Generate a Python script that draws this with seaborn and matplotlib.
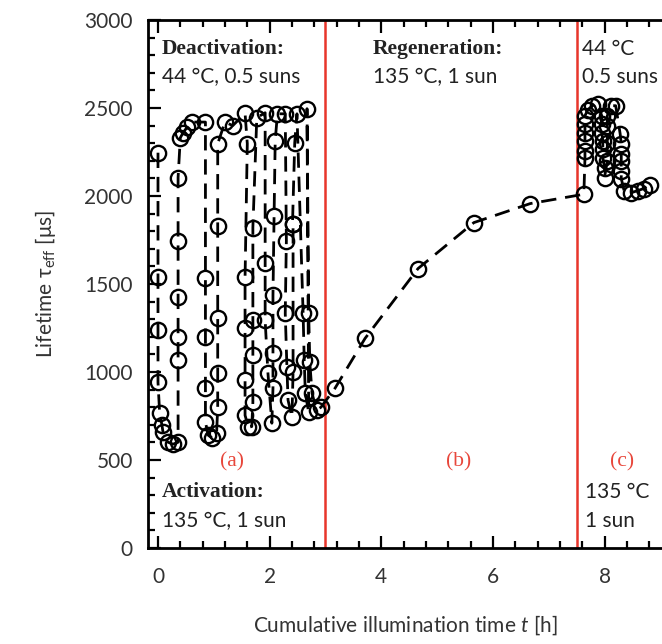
import numpy as np
import pandas as pd
import matplotlib
matplotlib.use("Agg")
import matplotlib.pyplot as plt
from matplotlib.ticker import MultipleLocator
import seaborn as sns

sns.set_theme(style="white")
plt.rcParams["font.family"] = ["Lato", "DejaVu Sans"]
plt.rcParams["mathtext.fontset"] = "custom"
plt.rcParams["mathtext.rm"] = "Lato"
plt.rcParams["mathtext.it"] = "Lato:italic"

# Cumulative illumination time [h] and effective lifetime [us], in measurement order
time_h = [
    # (a) activation / deactivation cycles
    0.00, 0.00, 0.00, 0.00, 0.03, 0.07, 0.09, 0.18, 0.27, 0.36,
    0.36, 0.36, 0.36, 0.36, 0.36, 0.40, 0.45, 0.52, 0.61,
    0.85, 0.85, 0.85, 0.85, 0.85, 0.90, 0.97, 1.05,
    1.07, 1.07, 1.07, 1.07, 1.07, 1.20, 1.34,
    1.56, 1.60, 1.56, 1.56, 1.56, 1.56, 1.62, 1.68,
    1.70, 1.70, 1.70, 1.70, 1.77,
    1.92, 1.92, 1.92, 1.97, 2.04,
    2.06, 2.06, 2.06, 2.08, 2.10, 2.14,
    2.28, 2.30, 2.28, 2.31, 2.33, 2.40,
    2.42, 2.42, 2.41, 2.45, 2.49,
    2.60, 2.62, 2.64, 2.70, 2.67,
    2.70, 2.72, 2.76, 2.84, 2.92,
    # (b) regeneration
    3.17, 3.71, 4.66, 5.66, 6.67, 7.63,
    # (c) deactivation / activation after regeneration
    7.65, 7.65, 7.65, 7.65, 7.65, 7.65, 7.70, 7.78, 7.88,
    7.95, 7.95, 7.95, 7.97, 7.97, 7.97, 8.00, 8.00,
    8.05, 8.05, 8.05, 8.05, 8.12, 8.20,
    8.28, 8.30, 8.30, 8.30, 8.30, 8.30, 8.35, 8.48, 8.60, 8.70, 8.82,
]
lifetime_us = [
    2246, 1537, 1237, 941, 766, 700, 658, 601, 590, 601,
    1066, 1197, 1424, 1747, 2105, 2331, 2360, 2390, 2420,
    2420, 1532, 1197, 907, 715, 641, 624, 652,
    800, 993, 1305, 1832, 2297, 2420, 2400,
    2470, 2297, 1537, 1248, 953, 754, 686, 690,
    828, 1095, 1293, 1821, 2445,
    2473, 1617, 1293, 993, 709,
    907, 1106, 1435, 1889, 2314, 2467,
    2467, 1747, 1333, 1027, 840, 743,
    1000, 1843, 1843, 2303, 2467,
    1333, 1066, 879, 770, 2496,
    1333, 1055, 879, 783, 800,
    907, 1191, 1588, 1849, 1957, 2010,
    2218, 2258, 2314, 2360, 2411, 2456, 2490, 2513, 2524,
    2456, 2411, 2360, 2314, 2269, 2218, 2161, 2104,
    2200, 2300, 2400, 2456, 2513, 2513,
    2354, 2297, 2241, 2201, 2144, 2099, 2031, 2019, 2031, 2042, 2065,
]
phase_bounds_h = [3.0, 7.5]

df = pd.DataFrame({"t": time_h, "tau": lifetime_us})

fig = plt.figure(figsize=(6.62, 6.44), dpi=100)
fig.patch.set_facecolor("white")
ax = fig.add_axes([148 / 662, 96 / 644, 1 - 148 / 662, 528 / 644])

for xb in phase_bounds_h:
    ax.axvline(xb, color="#e8352b", lw=1.8, zorder=1)

sns.lineplot(data=df, x="t", y="tau", sort=False, estimator=None, ax=ax,
             color="black", lw=2.0, linestyle=(0, (5.5, 3.2)),
             marker="o", markersize=11, markerfacecolor="none",
             markeredgecolor="black", markeredgewidth=1.7, zorder=3)

ax.set_xlim(-0.179, 9.03)
ax.set_ylim(0, 3000)
ax.spines["right"].set_visible(False)
for s in ["left", "top", "bottom"]:
    ax.spines[s].set_color("black")
    ax.spines[s].set_linewidth(2.0)

ax.xaxis.set_major_locator(MultipleLocator(2))
ax.xaxis.set_minor_locator(MultipleLocator(0.4))
ax.yaxis.set_major_locator(MultipleLocator(500))
ax.yaxis.set_minor_locator(MultipleLocator(100))
ax.tick_params(which="both", direction="in", top=True, bottom=True, left=True,
               right=False, color="black", width=1.6)
ax.tick_params(which="major", length=9, labelsize=15, labelcolor="#333333")
ax.tick_params(axis="x", which="major", pad=14)
ax.tick_params(axis="y", which="major", pad=11)
ax.tick_params(which="minor", length=5)

ax.set_xlabel("Cumulative illumination time $t$ [h]", fontsize=15,
              color="#333333", labelpad=19)
ax.set_ylabel("Lifetime τ$_{\\mathrm{eff}}$ [μs]", fontsize=15,
              color="#333333", labelpad=19)

serif = ["Liberation Serif", "DejaVu Serif"]
txt = "#222222"
ax.text(0.07, 2836, "Deactivation:", family=serif, weight="bold", fontsize=15.5,
        color=txt, va="center", ha="left")
ax.text(0.07, 2677, "44 °C, 0.5 suns", fontsize=15, color=txt, va="center", ha="left")
ax.text(3.85, 2836, "Regeneration:", family=serif, weight="bold", fontsize=15.5,
        color=txt, va="center", ha="left")
ax.text(3.85, 2677, "135 °C, 1 sun", fontsize=15, color=txt, va="center", ha="left")
ax.text(7.6, 2836, "44 °C", fontsize=15, color=txt, va="center", ha="left")
ax.text(7.6, 2677, "0.5 suns", fontsize=15, color=txt, va="center", ha="left")
ax.text(0.07, 318, "Activation:", family=serif, weight="bold", fontsize=15.5,
        color=txt, va="center", ha="left")
ax.text(0.07, 153, "135 °C, 1 sun", fontsize=15, color=txt, va="center", ha="left")
ax.text(7.65, 318, "135 °C", fontsize=15, color=txt, va="center", ha="left")
ax.text(7.65, 153, "1 sun", fontsize=15, color=txt, va="center", ha="left")

red = "#e8473b"
for lbl, xc in [("(a)", 1.33), ("(b)", 5.38), ("(c)", 8.32)]:
    ax.text(xc, 488, lbl, family=serif, fontsize=15.5, color=red, ha="center", va="center")

fig.savefig("out.png", dpi=100, facecolor="white")
